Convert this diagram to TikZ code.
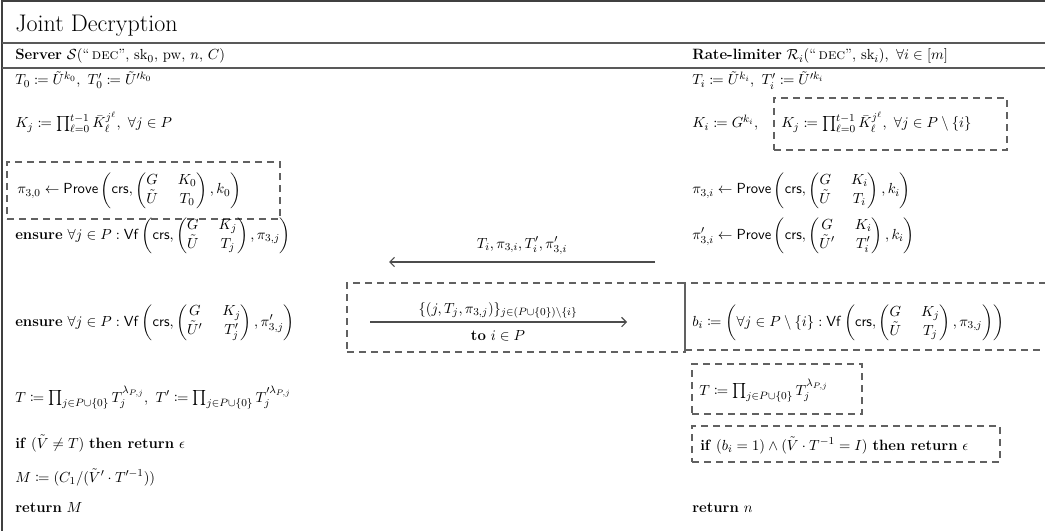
\documentclass[tikz,border=0pt]{standalone}
\usepackage{amsmath,amssymb,mathtools}
\usetikzlibrary{arrows.meta,fit}
\newcommand{\mProve}{\mathsf{Prove}}
\newcommand{\mcrs}{\mathsf{crs}}
\newcommand{\mVf}{\mathsf{Vf}}
\setlength{\arraycolsep}{7.5pt}
\tikzset{
 txt/.style={anchor=base west, inner sep=0pt, font=\fontsize{11.2}{13}\selectfont},
 ctxt/.style={anchor=base, inner sep=0pt, font=\fontsize{11.2}{13}\selectfont},
 rulel/.style={draw=black!65, line width=1.3pt},
 frame/.style={draw=black!75, line width=0.8pt},
 dbox/.style={draw=black!62, dash pattern=on 5.4pt off 3.6pt, line width=0.9pt, inner sep=0pt},
 msg/.style={draw=black!70, line width=0.8pt, -{Straight Barb[length=3.5pt,width=7pt]}},
}
\begin{document}
\begin{tikzpicture}[x=0.75pt,y=-0.75pt]
\useasboundingbox (0,0) rectangle (1045,531);
\clip (0,0) rectangle (1045,531);
% frame and rules
\coordinate (tl) at (2,1); \coordinate (tr) at (1045,1); \coordinate (bl) at (2,531);
\draw[frame] (tr) -- (tl) -- (bl);
\coordinate (r1a) at (2,43); \coordinate (r1b) at (1045,43);
\coordinate (r2a) at (2,68); \coordinate (r2b) at (1045,68);
\draw[rulel] (r1a) -- (r1b);
\draw[rulel] (r2a) -- (r2b);
% title and headers
\node[txt, font=\fontsize{18}{20}\selectfont] (title) at (15,32) {Joint Decryption};
\node[txt] (hS) at (15,60) {\textbf{Server} $\mathcal{S}(\text{``\,\textsc{dec}''},\, \mathrm{sk}_0,\, \mathrm{pw},\, n,\, C)$};
\node[txt] (hR) at (692,60) {\textbf{Rate-limiter} $\mathcal{R}_i(\text{``\,\textsc{dec}''},\, \mathrm{sk}_i),\ \forall i \in [m]$};
% server column
\node[txt] (s1) at (15,85) {$T_0 \coloneqq \tilde U^{k_0},\ T'_0 \coloneqq \tilde U'^{k_0}$};
\node[txt] (s2) at (15,128) {$K_j \coloneqq \prod_{\ell=0}^{t-1} \bar K_\ell^{j^\ell},\ \forall j \in P$};
\node[txt] (s3) at (17,194) {$\pi_{3,0} \gets \mProve\left(\mcrs, \begin{pmatrix} G & K_0\\ \tilde U & T_0\end{pmatrix}, k_0\right)$};
\coordinate (pb1) at (7,162); \coordinate (pb2) at (280,219);
\node[dbox, fit=(pb1)(pb2)] (pibox) {};
\node[txt] (s4) at (15,239) {\textbf{ensure} $\forall j \in P : \mVf\left(\mcrs, \begin{pmatrix} G & K_j\\ \tilde U & T_j\end{pmatrix}, \pi_{3,j}\right)$};
\node[txt] (s5) at (15,326) {\textbf{ensure} $\forall j \in P : \mVf\left(\mcrs, \begin{pmatrix} G & K_j\\ \tilde U' & T'_j\end{pmatrix}, \pi'_{3,j}\right)$};
\node[txt] (s6) at (15,402) {$T \coloneqq \prod_{j\in P\cup\{0\}} T_j^{\lambda_{P,j}},\ T' \coloneqq \prod_{j\in P\cup\{0\}} T_j'^{\lambda_{P,j}}$};
\node[txt] (s7) at (15,448) {\textbf{if} $(\tilde V \neq T)$ \textbf{then return} $\epsilon$};
\node[txt] (s8) at (15,482) {$M \coloneqq (C_1/(\tilde V' \cdot T'^{-1}))$};
\node[txt] (s9) at (15,512) {\textbf{return} $M$};
% rate-limiter column
\node[txt] (r1) at (692,85) {$T_i \coloneqq \tilde U^{k_i},\ T'_i \coloneqq \tilde U'^{k_i}$};
\node[txt] (r2) at (692,128) {$K_i \coloneqq G^{k_i},$};
\node[txt] (r2b) at (781,128) {$K_j \coloneqq \prod_{\ell=0}^{t-1} \bar K_\ell^{j^\ell},\ \forall j \in P\setminus\{i\}$};
\coordinate (kb1) at (774,98); \coordinate (kb2) at (1007,150);
\node[dbox, fit=(kb1)(kb2)] (kbox) {};
\node[txt] (r3) at (692,194) {$\pi_{3,i} \gets \mProve\left(\mcrs, \begin{pmatrix} G & K_i\\ \tilde U & T_i\end{pmatrix}, k_i\right)$};
\node[txt] (r4) at (692,239) {$\pi'_{3,i} \gets \mProve\left(\mcrs, \begin{pmatrix} G & K_i\\ \tilde U' & T'_i\end{pmatrix}, k_i\right)$};
\node[txt] (r5) at (692,326) {$b_i \coloneqq \left(\forall j \in P\setminus\{i\} : \mVf\left(\mcrs, \begin{pmatrix} G & K_j\\ \tilde U & T_j\end{pmatrix}, \pi_{3,j}\right)\right)$};
\coordinate (bb1) at (685,283); \coordinate (bb2) at (1060,350);
\node[dbox, fit=(bb1)(bb2)] (bbox) {};
\node[txt] (r6) at (699,395) {$T \coloneqq \prod_{j\in P\cup\{0\}} T_j^{\lambda_{P,j}}$};
\coordinate (tb1) at (692,364); \coordinate (tb2) at (862,414);
\node[dbox, fit=(tb1)(tb2)] (tbox) {};
\node[txt] (r7) at (700,450) {\textbf{if} $(b_i = 1)\wedge(\tilde V\cdot T^{-1} = I)$ \textbf{then return} $\epsilon$};
\coordinate (ib1) at (692,426); \coordinate (ib2) at (1000,462);
\node[dbox, fit=(ib1)(ib2)] (ibox) {};
\node[txt] (r8) at (692,512) {\textbf{return} $n$};
% messages
\coordinate (m1s) at (655,262); \coordinate (m1e) at (389,262);
\draw[msg] (m1s) -- (m1e);
\node[ctxt] (m1l) at (522,248) {$T_i, \pi_{3,i}, T'_i, \pi'_{3,i}$};
\coordinate (mb1) at (347,283); \coordinate (mb2) at (685,352);
\node[dbox, fit=(mb1)(mb2)] (mbox) {};
\coordinate (m2s) at (370,322); \coordinate (m2e) at (627,322);
\draw[msg] (m2s) -- (m2e);
\node[ctxt] (m2l) at (498,313) {$\{(j, T_j, \pi_{3,j})\}_{j\in(P\cup\{0\})\setminus\{i\}}$};
\node[ctxt] (m2b) at (498,340) {\textbf{to} $i \in P$};
\end{tikzpicture}
\end{document}
